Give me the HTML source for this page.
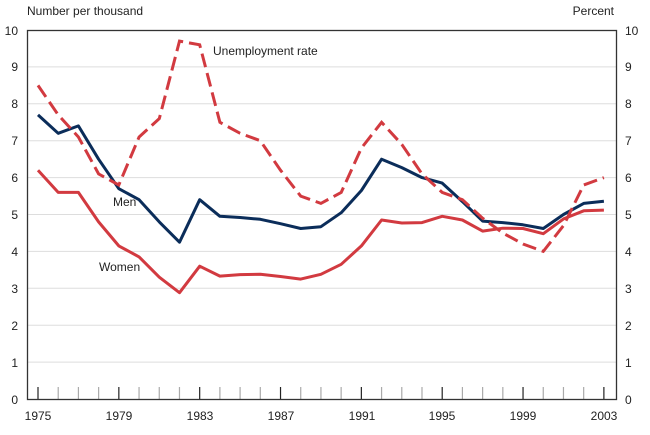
<!DOCTYPE html>
<html><head><style>body{margin:0;background:#fff}svg text{font-family:"Liberation Sans",sans-serif;font-size:12px;fill:#222}</style></head>
<body>
<svg id="s" width="650" height="430" xmlns="http://www.w3.org/2000/svg">
<g id="grid"></g>
<rect x="27.5" y="30.5" width="589" height="369" fill="none" stroke="#333" stroke-width="1.3"/>
<text x="27" y="15">Number per thousand</text>
<text x="614" y="15" text-anchor="end">Percent</text>
<g text-anchor="end" id="ly">
<text x="18" y="404">0</text><text x="18" y="367">1</text><text x="18" y="330">2</text><text x="18" y="293">3</text><text x="18" y="256">4</text><text x="18" y="219">5</text><text x="18" y="182">6</text><text x="18" y="145">7</text><text x="18" y="108">8</text><text x="18" y="71">9</text><text x="18" y="35">10</text>
</g>
<g text-anchor="start">
<text x="625" y="404">0</text><text x="625" y="367">1</text><text x="625" y="330">2</text><text x="625" y="293">3</text><text x="625" y="256">4</text><text x="625" y="219">5</text><text x="625" y="182">6</text><text x="625" y="145">7</text><text x="625" y="108">8</text><text x="625" y="71">9</text><text x="625" y="35">10</text>
</g>
<g text-anchor="middle">
<text x="38" y="420">1975</text><text x="119" y="420">1979</text><text x="200" y="420">1983</text><text x="281" y="420">1987</text><text x="362" y="420">1991</text><text x="442" y="420">1995</text><text x="523" y="420">1999</text><text x="604" y="420">2003</text>
</g>
<text x="213" y="55">Unemployment rate</text>
<text x="113" y="206">Men</text>
<text x="99" y="271">Women</text>
<g id="lines"></g>
</svg>
<script>
var X=function(i){return 38+i*20.21},Y=function(v){return 399-v*36.9};
var g=document.getElementById('grid'),h='';
for(var k=1;k<10;k++)h+='<line x1="28" x2="616" y1="'+Y(k)+'" y2="'+Y(k)+'" stroke="#ddd"/>';
for(var i=0;i<=28;i++){var m=i%4==0;h+='<line x1="'+X(i)+'" x2="'+X(i)+'" y1="387" y2="399" stroke="'+(m?'#222':'#aaa')+'" stroke-width="1.2"/>';}
g.innerHTML=h;
var U=[8.5,7.7,7.1,6.1,5.8,7.1,7.6,9.7,9.6,7.5,7.2,7.0,6.2,5.5,5.3,5.6,6.8,7.5,6.9,6.1,5.6,5.4,4.9,4.5,4.2,4.0,4.7,5.8,6.0];
var M=[7.7,7.2,7.4,6.5,5.7,5.4,4.8,4.25,5.4,4.95,4.92,4.87,4.75,4.62,4.67,5.05,5.65,6.5,6.27,6.0,5.85,5.35,4.82,4.78,4.72,4.62,5.0,5.3,5.36];
var W=[6.2,5.6,5.6,4.8,4.15,3.85,3.3,2.88,3.6,3.33,3.37,3.38,3.32,3.25,3.38,3.65,4.15,4.85,4.77,4.78,4.95,4.85,4.55,4.63,4.62,4.48,4.88,5.1,5.12];
function p(a){return a.map(function(v,i){return X(i).toFixed(1)+','+Y(v).toFixed(1)}).join(' ')}
document.getElementById('lines').innerHTML=
'<polyline points="'+p(W)+'" fill="none" stroke="#d23a40" stroke-width="3" stroke-linejoin="round"/>'+
'<polyline points="'+p(M)+'" fill="none" stroke="#0b2d5a" stroke-width="3" stroke-linejoin="round"/>'+
'<polyline points="'+p(U)+'" fill="none" stroke="#d23a40" stroke-width="3" stroke-dasharray="14,6"/>';
</script>
</body></html>
